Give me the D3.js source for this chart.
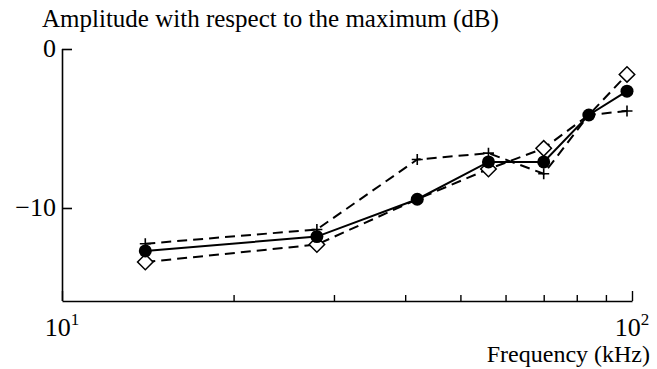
<!DOCTYPE html>
<html>
<head>
<meta charset="utf-8">
<script src="https://cdn.jsdelivr.net/npm/d3@7"></script>
<style>
  html, body { margin: 0; padding: 0; background: #fff; }
  svg text { font-family: "Liberation Serif", "Times New Roman", serif; fill: #000; }
</style>
</head>
<body>
<svg id="chart" width="657" height="369"></svg>
<script>
// Frequencies (kHz) and measured amplitudes (dB relative to maximum)
const frequencies = [14, 28, 42, 56, 70, 84, 98];
const seriesDots = [-12.7, -11.8, -9.45, -7.1, -7.1, -4.15, -2.65];
const seriesDiamonds = [-13.4, -12.3, -9.45, -7.55, -6.25, -4.15, -1.6];
const seriesPlus = [-12.25, -11.35, -6.95, -6.55, -7.85, -4.15, -3.9];

const yTicks = [0, -10];
const xMinorTicks = [20, 30, 40, 50, 60, 70, 80, 90];
const xMajorTicks = [10, 100];
const xMajorLabels = [["10", "1"], ["10", "2"]];

const svg = d3.select("#chart");
const x = d3.scaleLog().domain([10, 100]).range([62, 632]);
const y = d3.scaleLinear().domain([-15.85, 0]).range([301, 49]);

// Axes
const yAxis = d3.axisLeft(y)
  .tickValues(yTicks)
  .tickSizeInner(-10).tickSizeOuter(0)
  .tickPadding(6)
  .tickFormat(d => d < 0 ? "\u2212" + Math.abs(d) : String(d));
const gy = svg.append("g").attr("transform", `translate(${x.range()[0]},0)`).call(yAxis);
gy.attr("font-family", null);
gy.select(".domain").attr("stroke-width", 1.6).attr("d", `M0.5,${y(0)}V${y.range()[0]}`);
gy.selectAll(".tick line").attr("stroke-width", 1.6);
gy.selectAll(".tick text").attr("font-size", 26).attr("dy", "0.28em");

const gxMinor = svg.append("g").attr("transform", `translate(0,${y.range()[0]})`)
  .call(d3.axisBottom(x).tickValues(xMinorTicks).tickSizeInner(-6).tickSizeOuter(0).tickFormat(""));
gxMinor.select(".domain").attr("stroke-width", 1.6);
gxMinor.selectAll(".tick line").attr("stroke-width", 1.4);

const gxMajor = svg.append("g").attr("transform", `translate(0,${y.range()[0]})`)
  .call(d3.axisBottom(x).tickValues(xMajorTicks).tickSizeInner(-10).tickSizeOuter(0).tickFormat(""));
gxMajor.select(".domain").remove();
gxMajor.selectAll(".tick line").attr("stroke-width", 1.4);

const labels = svg.append("g").selectAll("text").data(xMajorTicks).join("text")
  .attr("x", d => x(d))
  .attr("y", 336)
  .attr("text-anchor", "middle")
  .attr("font-size", 26);
labels.append("tspan").text((d, i) => xMajorLabels[i][0]);
labels.append("tspan").attr("font-size", 17).attr("dy", -11).text((d, i) => xMajorLabels[i][1]);

// Axis titles
svg.append("text").attr("x", 42).attr("y", 27).attr("font-size", 25)
  .text("Amplitude with respect to the maximum (dB)");
svg.append("text").attr("x", 650).attr("y", 362).attr("text-anchor", "end").attr("font-size", 24)
  .text("Frequency (kHz)");

// Series
const line = vals => d3.line().x((d, i) => x(frequencies[i])).y(d => y(d))(vals);

svg.append("path").attr("d", line(seriesDiamonds))
  .attr("fill", "none").attr("stroke", "#000").attr("stroke-width", 2).attr("stroke-dasharray", "10,6");
svg.append("path").attr("d", line(seriesPlus))
  .attr("fill", "none").attr("stroke", "#000").attr("stroke-width", 2).attr("stroke-dasharray", "10,6");

// Open diamonds; where a point coincides with a filled dot the dot covers it
const diamond = d3.symbol().type(d3.symbolSquare).size(120);
const diamondPts = seriesDiamonds.map((v, i) => ({ f: frequencies[i], v }))
  .filter((p, i) => p.v !== seriesDots[i]);
svg.append("g").selectAll("path").data(diamondPts).join("path")
  .attr("d", diamond)
  .attr("transform", p => `translate(${x(p.f)},${y(p.v)}) rotate(45)`)
  .attr("fill", "#fff").attr("stroke", "#000").attr("stroke-width", 1.5);

svg.append("g").selectAll("path").data(seriesPlus).join("path")
  .attr("d", "M-5.5,0H5.5M0,-5.5V5.5")
  .attr("transform", (d, i) => `translate(${x(frequencies[i])},${y(d)})`)
  .attr("fill", "none").attr("stroke", "#000").attr("stroke-width", 1.6);

svg.append("path").attr("d", line(seriesDots))
  .attr("fill", "none").attr("stroke", "#000").attr("stroke-width", 2);
svg.append("g").selectAll("circle").data(seriesDots).join("circle")
  .attr("cx", (d, i) => x(frequencies[i]))
  .attr("cy", d => y(d))
  .attr("r", 6.5)
  .attr("fill", "#000");
</script>
</body>
</html>
